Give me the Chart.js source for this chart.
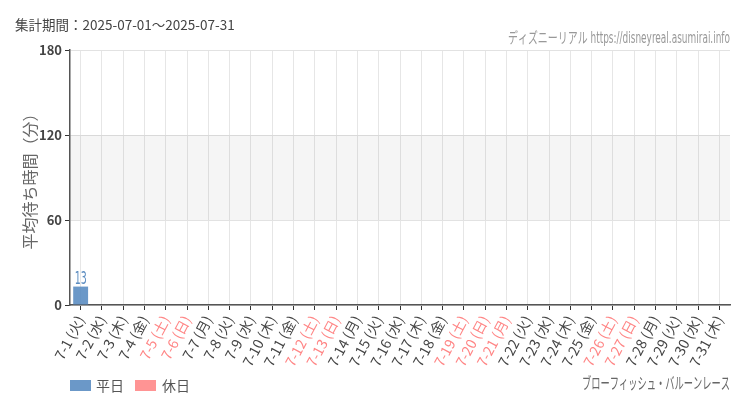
<!DOCTYPE html>
<html>
<head>
<meta charset="utf-8">
<script src="https://cdn.jsdelivr.net/npm/chart.js@4.4.0/dist/chart.umd.min.js"></script>
<style>
  body { margin: 0; background: #fff; }
  #wrap { width: 750px; height: 410px; }
</style>
</head>
<body>
<div id="wrap"><canvas id="chart-wait"></canvas></div>
<script>
const days = [
  "7-1", "7-2", "7-3", "7-4", "7-5", "7-6", "7-7", "7-8", "7-9", "7-10",
  "7-11", "7-12", "7-13", "7-14", "7-15", "7-16", "7-17", "7-18", "7-19", "7-20",
  "7-21", "7-22", "7-23", "7-24", "7-25", "7-26", "7-27", "7-28", "7-29", "7-30", "7-31",
];
const weekdays = [
  "火", "水", "木", "金", "土", "日", "月", "火", "水", "木",
  "金", "土", "日", "月", "火", "水", "木", "金", "土", "日",
  "月", "火", "水", "木", "金", "土", "日", "月", "火", "水", "木",
];
const holidays = ["7-5", "7-6", "7-12", "7-13", "7-19", "7-20", "7-21", "7-26", "7-27"];
const weekdayWait = [
  13, null, null, null, null, null, null, null, null, null,
  null, null, null, null, null, null, null, null, null, null,
  null, null, null, null, null, null, null, null, null, null, null,
];
const holidayWait = [
  null, null, null, null, null, null, null, null, null, null,
  null, null, null, null, null, null, null, null, null, null,
  null, null, null, null, null, null, null, null, null, null, null,
];
const yTicks = [0, 60, 120, 180];

const BLUE = "rgba(86, 138, 192, 0.88)";
const PINK = "rgba(255, 136, 136, 0.9)";
const FONT = "'Noto Sans CJK JP', 'Noto Sans', sans-serif";
const NARROW = "'DejaVu Sans Condensed', 'Liberation Sans Narrow', 'Noto Sans CJK JP', sans-serif";

const labels = days.map((d, i) => `${d} (${weekdays[i]})`);

// draws text squeezed horizontally to a given width (the source uses a narrow face)
const fitText = (ctx, text, x, y, maxW, align) => {
  const w = ctx.measureText(text).width;
  const s = Math.min(1, maxW / w);
  ctx.save();
  ctx.translate(x, y);
  ctx.scale(s, 1);
  ctx.textAlign = align;
  ctx.fillText(text, 0, 0);
  ctx.restore();
};

const decorPlugin = {
  id: "decor",
  beforeDatasetsDraw: (chart) => {
    const { ctx, chartArea, scales } = chart;
    const y1 = scales.y.getPixelForValue(120);
    const y0 = scales.y.getPixelForValue(60);
    ctx.save();
    ctx.fillStyle = "rgba(0, 0, 0, 0.04)";
    ctx.fillRect(chartArea.left, y1, chartArea.right - chartArea.left, y0 - y1);
    ctx.restore();
  },
  afterDatasetsDraw: (chart) => {
    const { ctx } = chart;
    const meta = chart.getDatasetMeta(0);
    ctx.save();
    ctx.fillStyle = "#5b8cc0";
    ctx.font = `18px ${NARROW}`;
    ctx.textBaseline = "alphabetic";
    meta.data.forEach((bar, i) => {
      const v = weekdayWait[i];
      if (v === null) return;
      fitText(ctx, String(v), bar.x, bar.y - 3, 12, "center");
    });
    ctx.restore();
  },
  afterDraw: (chart) => {
    const { ctx } = chart;
    ctx.save();
    ctx.textBaseline = "middle";
    ctx.fillStyle = "#444";
    ctx.font = `13.5px ${FONT}`;
    ctx.textAlign = "left";
    ctx.fillText("集計期間：2025-07-01～2025-07-31", 15, 25);

    ctx.fillStyle = "#999";
    ctx.font = `15px ${NARROW}`;
    fitText(ctx, "ディズニーリアル https://disneyreal.asumirai.info", 730, 39, 222, "right");

    ctx.fillStyle = "#666";
    ctx.font = `16px ${NARROW}`;
    fitText(ctx, "ブローフィッシュ・バルーンレース", 730, 385, 148, "right");

    // legend
    ctx.font = `14px ${FONT}`;
    ctx.fillStyle = BLUE;
    ctx.fillRect(70, 380, 21, 11);
    ctx.fillStyle = "#555";
    ctx.textAlign = "left";
    ctx.fillText("平日", 96, 386);
    ctx.fillStyle = PINK;
    ctx.fillRect(135, 380, 21, 11);
    ctx.fillStyle = "#555";
    ctx.fillText("休日", 162, 386);
    ctx.restore();
  },
};

const chartConfig = {
  type: "bar",
  data: {
    labels: labels,
    datasets: [
      { label: "平日", data: weekdayWait, backgroundColor: BLUE, grouped: false, categoryPercentage: 0.7, barPercentage: 1 },
      { label: "休日", data: holidayWait, backgroundColor: PINK, grouped: false, categoryPercentage: 0.7, barPercentage: 1 },
    ],
  },
  options: {
    responsive: true,
    maintainAspectRatio: false,
    animation: false,
    layout: { padding: { top: 50, right: 20, bottom: 40, left: 0 } },
    plugins: {
      legend: { display: false },
      tooltip: { enabled: false },
    },
    scales: {
      x: {
        afterFit: (scale) => { scale.height = 65; },
        grid: { offset: false, color: "#e6e6e6", tickColor: "#333", tickLength: 5 },
        border: { color: "#555", width: 1.5 },
        ticks: {
          minRotation: 62,
          maxRotation: 62,
          autoSkip: false,
          padding: 3,
          font: { family: FONT, size: 14 },
          color: (c) => (holidays.includes(days[c.index]) ? "#ff8585" : "#444"),
        },
      },
      y: {
        min: 0,
        max: 180,
        afterFit: (scale) => { scale.width = 70; },
        afterBuildTicks: (scale) => { scale.ticks = yTicks.map((v) => ({ value: v })); },
        grid: { color: "#e2e2e2", tickColor: "#333", tickLength: 5 },
        border: { color: "#555", width: 1.5 },
        ticks: {
          padding: 3,
          font: { family: FONT, size: 13, weight: "bold" },
          color: "#444",
        },
        title: {
          display: true,
          text: "平均待ち時間（分）",
          color: "#666",
          font: { family: FONT, size: 16 },
          padding: { top: 20, bottom: 0 },
        },
      },
    },
  },
  plugins: [decorPlugin],
};

new Chart(document.querySelector("#chart-wait"), chartConfig);
</script>
</body>
</html>
